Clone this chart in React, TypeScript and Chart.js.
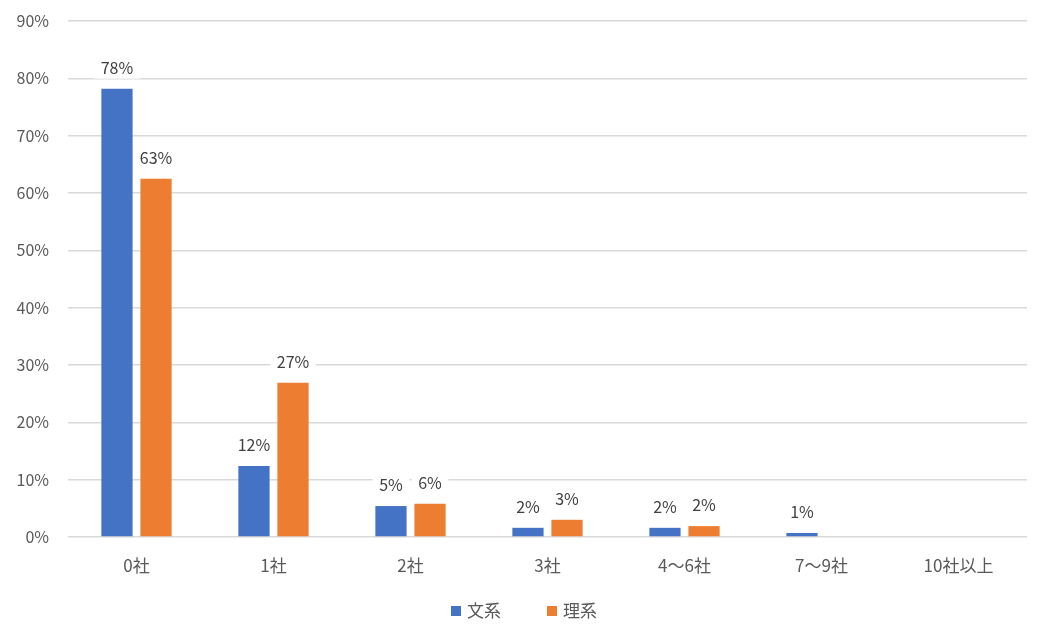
import React, { useEffect, useRef } from "react";
import { Chart, registerables } from "chart.js";

Chart.register(...registerables);

const categories = ["0社", "1社", "2社", "3社", "4〜6社", "7〜9社", "10社以上"];
const bunkei = [78.2, 12.4, 5.4, 1.6, 1.6, 0.7, 0];
const rikei = [62.5, 26.9, 5.8, 3.0, 1.9, 0, 0];
const seriesNames = ["文系", "理系"];
const seriesColors = ["#4472C4", "#ED7D31"];
const yTicks = [0, 10, 20, 30, 40, 50, 60, 70, 80, 90];

const FONT = "'Noto Sans CJK JP', 'Noto Sans', sans-serif";
const TEXT = "#595959";

const labelPlugin = {
  id: "barLabels",
  afterDatasetsDraw(chart: any) {
    const ctx = chart.ctx;
    ctx.save();
    ctx.font = `16px ${FONT}`;
    ctx.textAlign = "center";
    ctx.textBaseline = "middle";
    chart.data.datasets.forEach((ds: any, di: number) => {
      const meta = chart.getDatasetMeta(di);
      meta.data.forEach((bar: any, i: number) => {
        const v = ds.data[i];
        if (!v) return;
        const txt = Math.round(v) + "%";
        const cy = bar.y - 21;
        const w = ctx.measureText(txt).width + 13;
        ctx.fillStyle = "#ffffff";
        ctx.fillRect(bar.x - w / 2, cy - 11, w, 22);
        ctx.fillStyle = "#404040";
        ctx.fillText(txt, bar.x, cy);
      });
    });
    ctx.restore();
  },
};

const legendPlugin = {
  id: "customLegend",
  afterDraw(chart: any) {
    const ctx = chart.ctx;
    ctx.save();
    ctx.font = `17px ${FONT}`;
    ctx.textBaseline = "middle";
    ctx.textAlign = "left";
    const box = 10;
    const gap = 6;
    const spacing = 46;
    const items = chart.data.datasets.map((ds: any) => ({
      label: ds.label,
      color: ds.backgroundColor,
      w: box + gap + ctx.measureText(ds.label).width,
    }));
    const total = items.reduce((a: number, it: any) => a + it.w, 0) + spacing * (items.length - 1);
    let x = chart.width / 2 + 5 - total / 2;
    const y = 611;
    items.forEach((it: any) => {
      ctx.fillStyle = it.color;
      ctx.fillRect(x, y - box / 2, box, box);
      ctx.fillStyle = TEXT;
      ctx.fillText(it.label, x + box + gap, y);
      x += it.w + spacing;
    });
    ctx.restore();
  },
};

export default function App() {
  const ref = useRef<HTMLCanvasElement>(null);
  useEffect(() => {
    document.body.style.margin = "0";
    const chart = new Chart(ref.current!, {
      type: "bar",
      data: {
        labels: categories,
        datasets: [
          { label: seriesNames[0], data: bunkei, backgroundColor: seriesColors[0] },
          { label: seriesNames[1], data: rikei, backgroundColor: seriesColors[1] },
        ],
      },
      options: {
        animation: false,
        responsive: false,
        layout: { padding: { left: 0, right: 11, top: 21, bottom: 44 } },
        datasets: { bar: { categoryPercentage: 0.57, barPercentage: 0.8 } } as any,
        scales: {
          x: {
            afterFit: (s: any) => { s.height = 56; s.paddingLeft = 0; s.paddingRight = 0; },
            grid: { display: false, drawTicks: false },
            border: { display: false },
            ticks: { color: TEXT, font: { family: FONT, size: 17 }, padding: 18 },
          },
          y: {
            min: 0,
            max: 90,
            afterFit: (s: any) => { s.width = 68; s.paddingTop = 0; s.paddingBottom = 0; },
            afterBuildTicks: (s: any) => { s.ticks = yTicks.map((v) => ({ value: v })); },
            grid: { color: "#d9d9d9", lineWidth: 1.5, drawTicks: false },
            border: { display: false },
            ticks: {
              color: TEXT,
              font: { family: FONT, size: 16 },
              padding: 19,
              callback: (v: any) => v + "%",
            },
          },
        },
        plugins: {
          legend: { display: false },
          tooltip: { enabled: false },
        },
      },
      plugins: [labelPlugin, legendPlugin],
    });
    return () => chart.destroy();
  }, []);
  return <canvas ref={ref} width={1038} height={637} style={{ display: "block" }} />;
}
